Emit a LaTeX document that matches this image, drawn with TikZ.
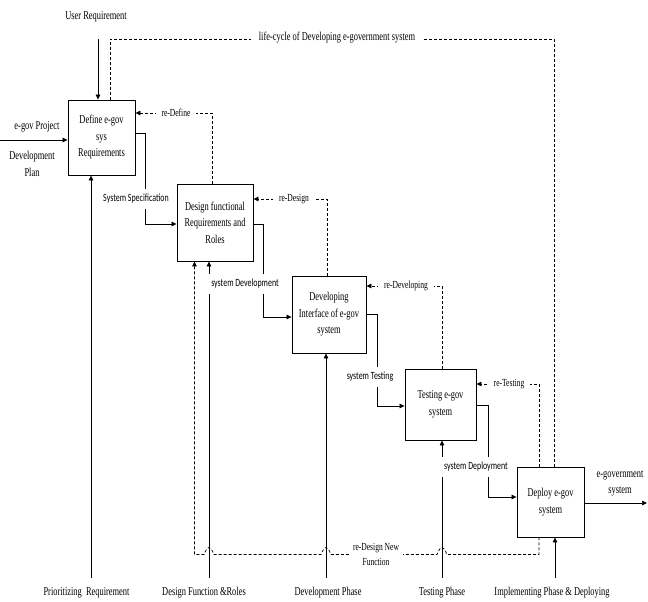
\documentclass[tikz,border=0pt]{standalone}
\usepackage{fontspec}
\setmainfont[FakeStretch=0.7]{Liberation Serif}
\newfontfamily\sanslabel[FakeStretch=0.72]{Carlito}
\usetikzlibrary{arrows.meta}

\begin{document}
\begin{tikzpicture}[x=1pt,y=-1pt,
  stage/.style={draw, line width=0.9pt, inner sep=0pt, align=center,
    font=\fontsize{12}{16.5}\selectfont},
  txt/.style={inner sep=0pt, align=center, font=\fontsize{12}{16.5}\selectfont},
  flow/.style={line width=0.7pt, -{Triangle[length=5pt,width=4.5pt]}},
  fbline/.style={line width=0.7pt, dash pattern=on 3pt off 2pt},
  fb/.style={fbline, -{Triangle[length=5pt,width=4.5pt]}},
  flowlbl/.style={fill=white, inner xsep=2pt, inner ysep=5pt,
    font=\sanslabel\fontsize{11}{12}\selectfont},
  relbl/.style={fill=white, inner xsep=6pt, inner ysep=2pt, align=center,
    font=\fontsize{10.8}{15}\selectfont},
]
\fill[white] (0,0) rectangle (648,602);
\useasboundingbox (0,0) rectangle (648,602);

% the five life-cycle stages
\node[stage, minimum width=67pt, minimum height=75pt] (b1) at (101.5,137.5)
  {Define e-gov\\sys\\Requirements};
\node[stage, minimum width=76pt, minimum height=77pt] (b2) at (215,222.5)
  {Design functional\\Requirements and\\Roles};
\node[stage, minimum width=74pt, minimum height=77pt] (b3) at (329,314.5)
  {Developing\\Interface of e-gov\\system};
\node[stage, minimum width=71pt, minimum height=71pt] (b4) at (440.5,404.5)
  {Testing e-gov\\system};
\node[stage, minimum width=67pt, minimum height=70pt] (b5) at (550.5,502)
  {Deploy e-gov\\system};

% free ends of the external inputs and the output
\coordinate (userIn) at (98,39);
\coordinate (planIn) at (0,140);
\coordinate (sysOut) at (647,503);
\coordinate (m1) at (91,578);
\coordinate (m2) at (209,578);
\coordinate (m3) at (326,578);
\coordinate (m4) at (442,578);
\coordinate (m5) at (555,578);

% inputs, output and mechanisms
\draw[flow] (userIn) -- (b1.north -| userIn);
\draw[flow] (planIn) -- (b1.west |- planIn);
\draw[flow] (b5.east |- sysOut) -- (sysOut);
\draw[flow] (m1) -- (b1.south -| m1);
\draw[flow] (m2) -- (b2.south -| m2);
\draw[flow] (m3) -- (b3.south -| m3);
\draw[flow] (m4) -- (b4.south -| m4);
\draw[flow] (m5) -- (b5.south -| m5);

% forward flow between stages
\draw[flow] (b1.east |- 0,133) -- (145,133) |- (b2.west |- 0,224);
\draw[flow] (b2.east |- 0,224) -- (263,224) |- (b3.west |- 0,317);
\draw[flow] (b3.east |- 0,314) -- (377,314) |- (b4.west |- 0,406);
\draw[flow] (b4.east |- 0,405) -- (488,405) |- (b5.west |- 0,497);

% feedback loops
\draw[fb] (b2.north -| 212,0) |- (b1.east |- 0,113);
\draw[fb] (b3.north -| 327,0) |- (b2.east |- 0,199);
\draw[fb] (b4.north -| 442,0) |- (b3.east |- 0,286);
\draw[fb] (b5.north -| 539,0) |- (b4.east |- 0,384);
\draw[fbline] (b5.north -| 554,0) -- (554,39) -- (110,39) -- (b1.north -| 110,0);
\draw[fb] (b5.south -| 539,0) -- (539,554.5)
  -- (447,554.5) .. controls (443,545) and (441,545) .. (437,554.5)
  -- (331,554.5) .. controls (327,545) and (325,545) .. (321,554.5)
  -- (214,554.5) .. controls (210,545) and (208,545) .. (204,554.5)
  -- (194.5,554.5) -- (b2.south -| 194.5,0);

% labels on the flows
\node[flowlbl] (lspec) at (136,199) {System Specification};
\node[flowlbl] (ldev) at (245,284) {system Development};
\node[flowlbl] (ltest) at (370,377) {system Testing};
\node[flowlbl] (ldep) at (476,467) {system Deployment};

\node[relbl] (rdef) at (176,113) {re-Define};
\node[relbl] (rdes) at (294,199) {re-Design};
\node[relbl] (rdevl) at (406,286) {re-Developing};
\node[relbl] (rtest) at (509,384) {re-Testing};
\node[relbl, inner xsep=4pt] (rnew) at (376,554) {re-Design New\\Function};
\node[txt, fill=white, inner xsep=8pt, inner ysep=2pt] (life) at (337,38)
  {life-cycle of Developing e-government system};

% external labels
\node[txt] (user) at (96,17) {User Requirement};
\node[txt] (proj) at (37,127) {e-gov Project};
\node[txt] (plan) at (32,164) {Development\\Plan};
\node[txt] (egs) at (620,483.5) {e-government\\system};
\node[txt] (lm1) at (86.5,593) {Prioritizing\ \ Requirement};
\node[txt] (lm2) at (204,593) {Design Function \&Roles};
\node[txt] (lm3) at (328,593) {Development Phase};
\node[txt] (lm4) at (442,593) {Testing Phase};
\node[txt] (lm5) at (552,593) {Implementing Phase \& Deploying};
\end{tikzpicture}
\end{document}
